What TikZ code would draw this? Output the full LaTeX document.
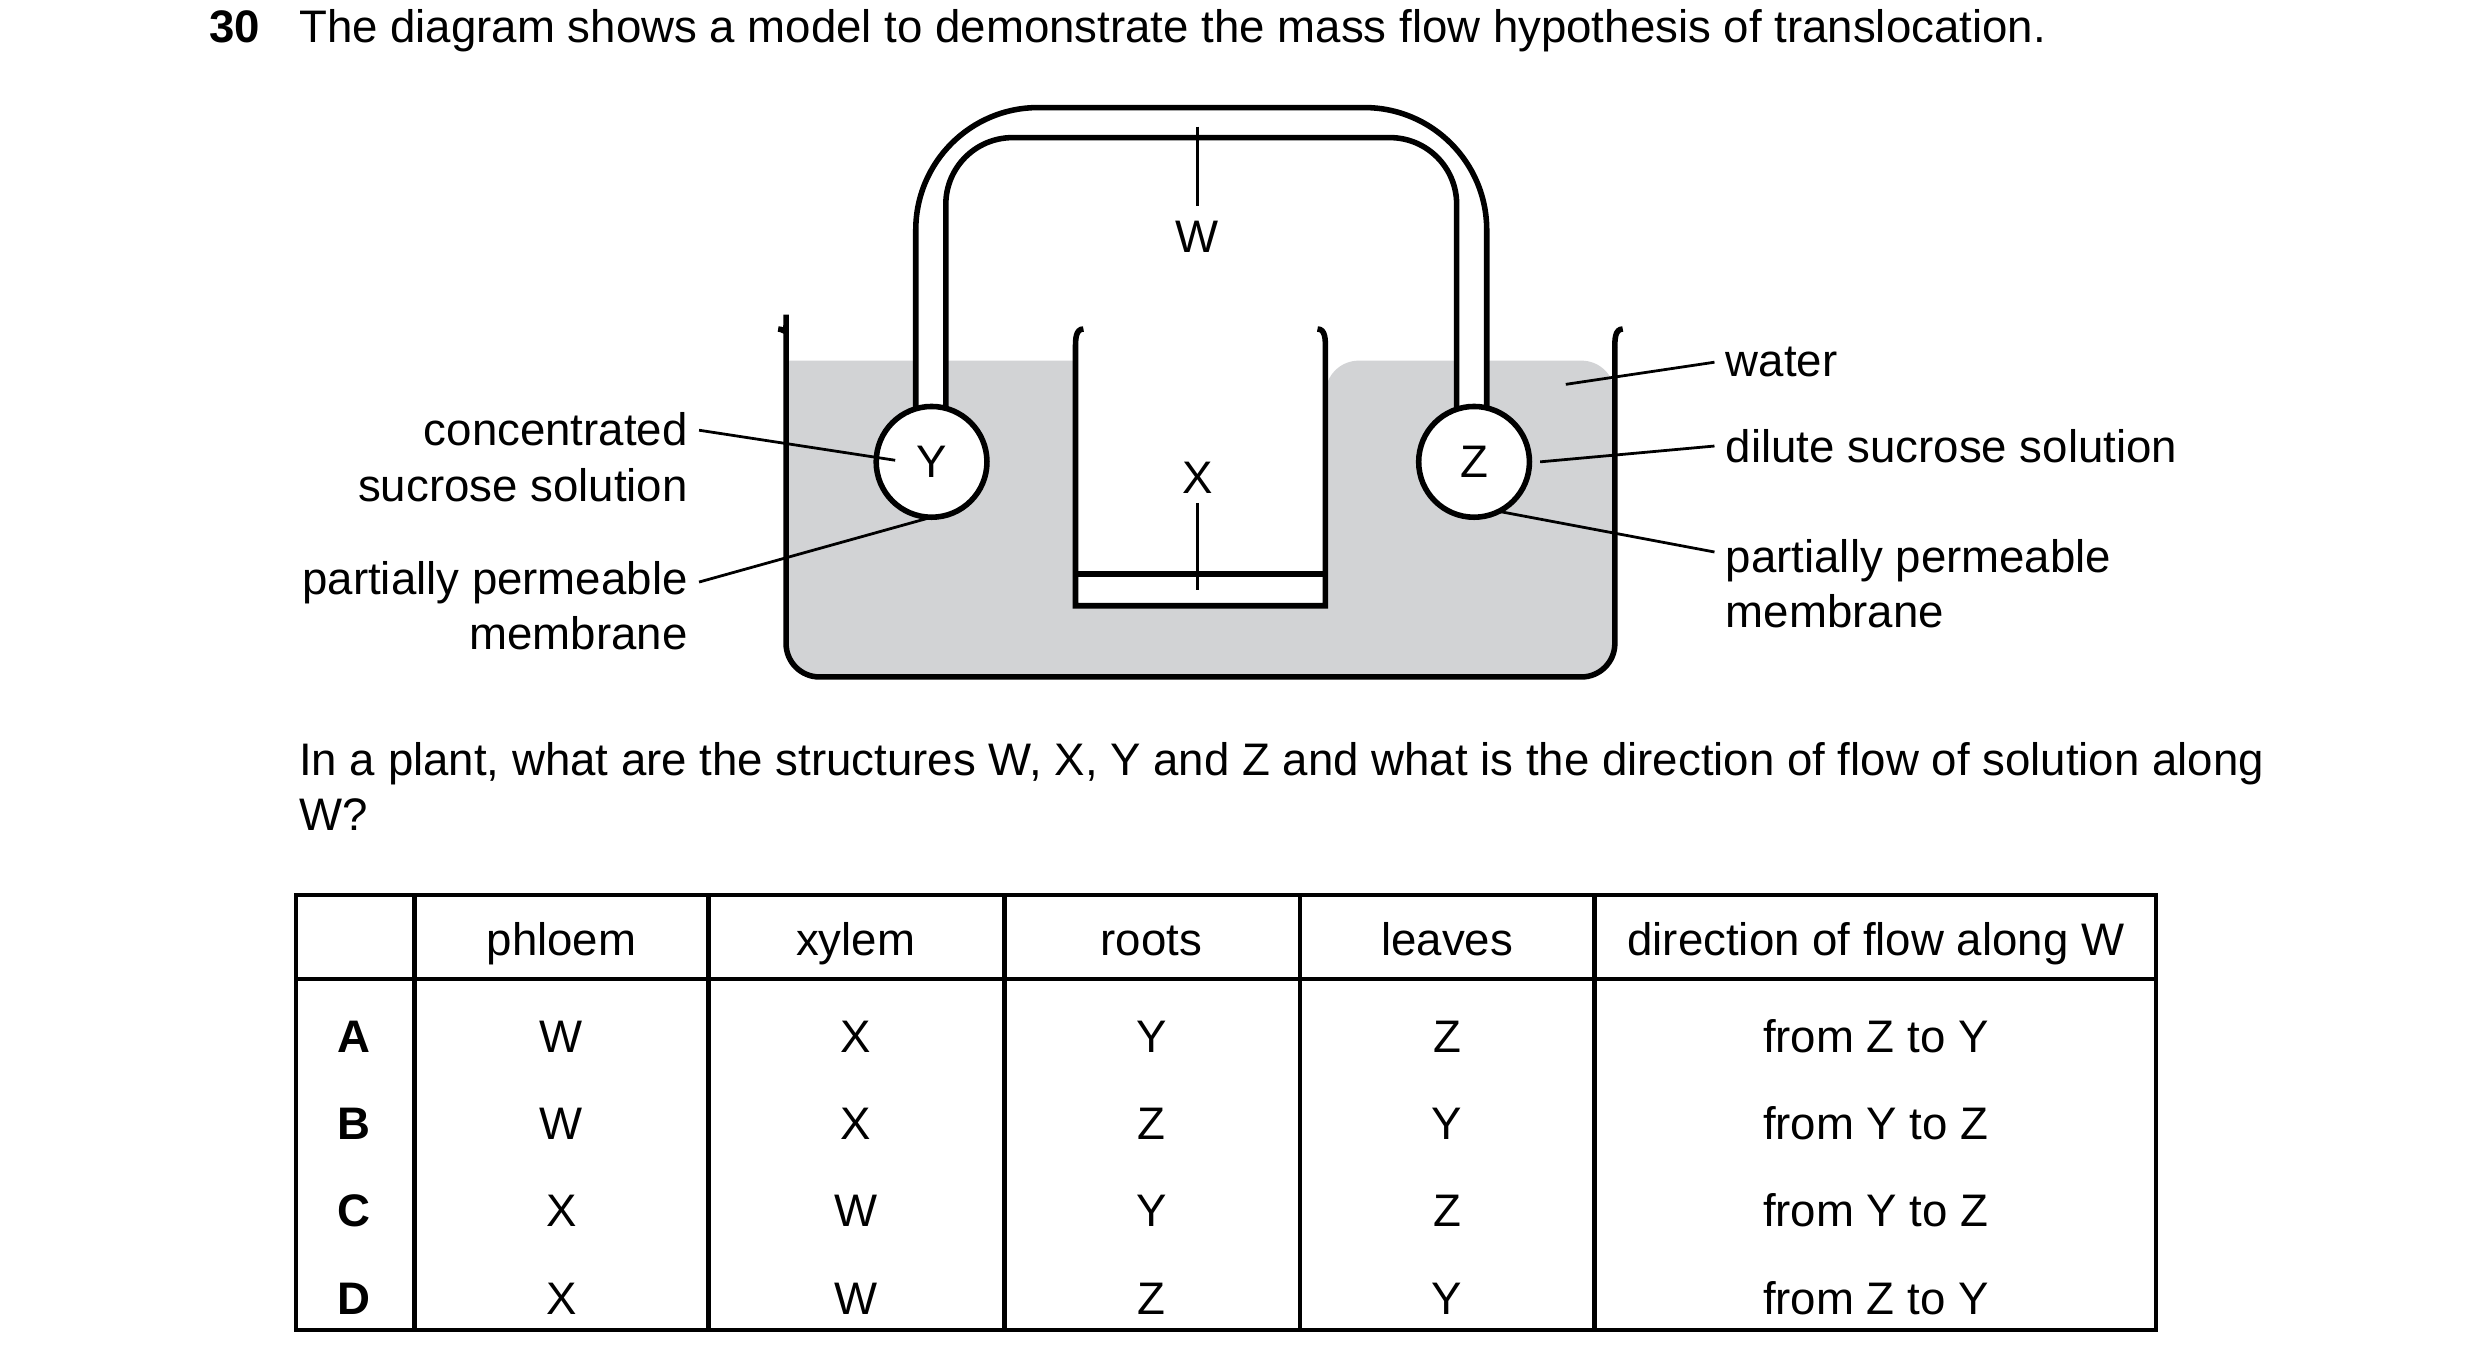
\documentclass[tikz,border=0pt]{standalone}
\usepackage{fontspec}
\setmainfont{Liberation Sans}
\usetikzlibrary{positioning}
\definecolor{liquid}{RGB}{210,211,213}
\begin{document}
\begin{tikzpicture}[x=0.01cm,y=-0.01cm,line width=0.7pt,
    txt/.style={font=\fontsize{8.2}{10}\selectfont,inner sep=0pt,text height=1.5ex,text depth=.3ex},
    lbl/.style={font=\fontsize{8.2}{10}\selectfont,inner sep=0pt,align=left},
    lbr/.style={font=\fontsize{8.2}{10}\selectfont,inner sep=0pt,align=right},
    lead/.style={line width=0.5pt},
    bulb/.style={circle,draw,fill=white,line width=1pt,minimum size=0.7cm,inner sep=0pt,font=\fontsize{8.2}{10}\selectfont}]
  \useasboundingbox (0,0) rectangle (1568,866);
  % question
  \node[txt,font=\fontsize{8.2}{10}\selectfont\bfseries,anchor=west] (num) at (131,16) {30};
  \node[txt,anchor=west] (title) at (188,16) {The diagram shows a model to demonstrate the mass flow hypothesis of translocation.};
  % liquid
  \fill[liquid,rounded corners=6] (497,228) -- (497,428) -- (1021,428) -- (1021,228) -- (838,228) [sharp corners] -- (838,383) -- (680,383) -- (680,228) -- cycle;
  % tank
  \draw[line width=1pt,rounded corners=6] (492,208) to[out=0,in=90] (497,220) -- (497,428) -- (1021,428) -- (1021,220);
  \draw[line width=1pt] (1021,220) to[out=90,in=180] (1026,208);
  \draw[line width=1pt] (685,208) to[out=180,in=90] (680,220) -- (680,383) -- (838,383) -- (838,220) to[out=90,in=0] (833,208);
  \draw[line width=1pt] (680,363) -- (838,363);
  % tube
  \filldraw[fill=white,line width=1pt] (579,262) [rounded corners=22] -- (579,68) -- (940,68) [sharp corners] -- (940,262) -- (921,262) [rounded corners=12] -- (921,87) -- (598,87) [sharp corners] -- (598,262) -- cycle;
  \node[bulb] (Y) at (589,292) {Y};
  \node[bulb] (Z) at (932,292) {Z};
  % W and X
  \coordinate (wtop) at (757,80);
  \node[lbl] (W) at (757,150) {W};
  \draw[lead] (wtop) -- (W.north |- 0,130);
  \node[lbl] (X) at (757,302) {X};
  \coordinate (xbot) at (757,373);
  \draw[lead] (X.south |- 0,318) -- (xbot);
  % labels left
  \node[lbr,anchor=east] (conc) at (436,289) {concentrated\\sucrose solution};
  \node[lbr,anchor=east] (pplt) at (436,383) {partially permeable\\membrane};
  \coordinate (ymem) at (589,327);
  \draw[lead] (442,272) -- (566,291);
  \draw[lead] (442,368) -- (ymem);
  % labels right
  \node[lbl,anchor=west] (water) at (1090,229) {water};
  \node[lbl,anchor=west] (dil) at (1090,282) {dilute sucrose solution};
  \node[lbl,anchor=west] (pprt) at (1090,369) {partially permeable\\membrane};
  \coordinate (wpt) at (990,243);
  \coordinate (zmem) at (946,323);
  \draw[lead] (wpt) -- (1084,229);
  \draw[lead] (Z.east) ++(5,0) -- (1084,282);
  \draw[lead] (zmem) -- (1084,349);
  % question 2
  \node[lbl,anchor=north west] (q) at (188,468) {In a plant, what are the structures W, X, Y and Z and what is the direction of flow of solution along\\W?};
  % table
  \draw[line width=0.8pt] (187,566) rectangle (1363,841);
  \draw[line width=0.8pt] (187,619) -- (1363,619);
  \foreach \x in {262,448,635,822,1008} \draw[line width=0.8pt] (\x,566) -- (\x,841);
  \foreach \t/\x in {phloem/355,xylem/541,roots/728,leaves/915,direction of flow along W/1186}
    \node[txt] (h-\t) at (\x,593) {\t};
  \foreach \k/\a/\b/\c/\d/\e/\y in {A/W/X/Y/Z/from Z to Y/654,B/W/X/Z/Y/from Y to Z/709,C/X/W/Y/Z/from Y to Z/764,D/X/W/Z/Y/from Z to Y/820}{
    \node[txt,font=\fontsize{8.2}{10}\selectfont\bfseries] (r\k) at (224,\y) {\k};
    \node[txt] (r\k1) at (355,\y) {\a};
    \node[txt] (r\k2) at (541,\y) {\b};
    \node[txt] (r\k3) at (728,\y) {\c};
    \node[txt] (r\k4) at (915,\y) {\d};
    \node[txt] (r\k5) at (1186,\y) {\e};
  }
\end{tikzpicture}
\end{document}
